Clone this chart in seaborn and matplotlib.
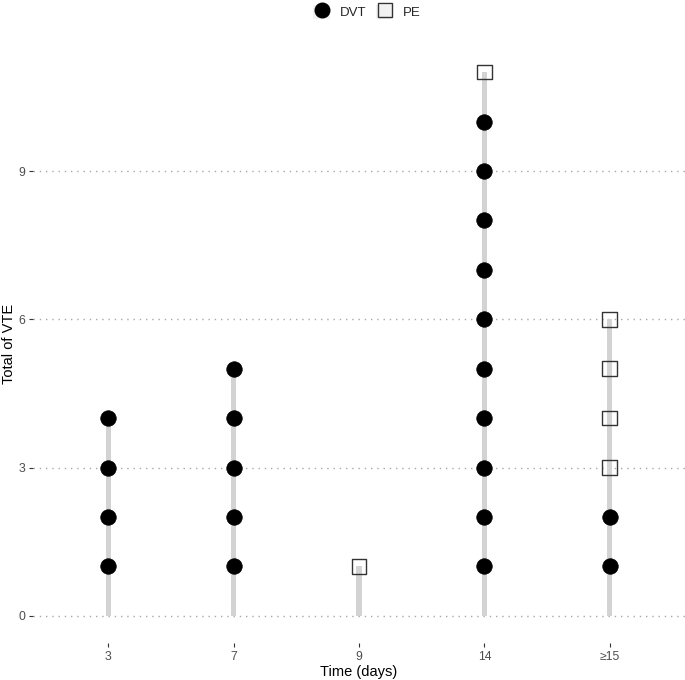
import matplotlib
matplotlib.use("Agg")
import matplotlib.pyplot as plt
import seaborn as sns
import pandas as pd
from matplotlib.lines import Line2D
from matplotlib.patches import Rectangle
from matplotlib.legend_handler import HandlerTuple

# ---- data ----
categories = ["3", "7", "9", "14", "≥15"]
totals = [4, 5, 1, 11, 6]
dvt_x = ["3"] * 4 + ["7"] * 5 + ["14"] * 10 + ["≥15"] * 2
dvt_y = [1, 2, 3, 4] + [1, 2, 3, 4, 5] + [1, 2, 3, 4, 5, 6, 7, 8, 9, 10] + [1, 2]
pe_x = ["9", "14", "≥15", "≥15", "≥15", "≥15"]
pe_y = [1, 11, 3, 4, 5, 6]
y_ticks = [0, 3, 6, 9]

sns.set_theme(style="white")
plt.rcParams["font.family"] = ["Liberation Sans", "DejaVu Sans"]

fig = plt.figure(figsize=(6.85, 6.80), dpi=100)
ax = fig.add_axes([33 / 685, 37 / 680, 652 / 685, 598 / 680])

df_tot = pd.DataFrame({"time": pd.Categorical(categories, categories=categories, ordered=True),
                       "total": totals})
df_dvt = pd.DataFrame({"time": pd.Categorical(dvt_x, categories=categories, ordered=True), "n": dvt_y})
df_pe = pd.DataFrame({"time": pd.Categorical(pe_x, categories=categories, ordered=True), "n": pe_y})

for y in y_ticks:
    ax.axhline(y, color="#a8a8a8", lw=1.0, ls=(0, (1, 3.5)), zorder=0)

sns.barplot(data=df_tot, x="time", y="total", order=categories, width=0.04,
            color="#d3d3d3", saturation=1, ax=ax, zorder=1, edgecolor="none")

sns.scatterplot(data=df_dvt, x="time", y="n", marker="o", s=125, color="black",
                edgecolor="black", linewidth=0.5, ax=ax, zorder=3, legend=False)
sns.scatterplot(data=df_pe, x="time", y="n", marker="s", s=110, facecolor="none",
                edgecolor="#333333", linewidth=1.0, ax=ax, zorder=3, legend=False)

ax.set_xlim(-0.6, 4.6)
ax.set_ylim(-0.55, 11.55)
ax.set_yticks(y_ticks)
ax.set_yticklabels([str(v) for v in y_ticks])
for s in ax.spines.values():
    s.set_visible(False)
ax.tick_params(axis="both", which="both", length=3, width=0.8, color="#333333",
               labelsize=8.8, labelcolor="#4d4d4d", pad=2.5, left=True, bottom=True)
ax.tick_params(axis="x", pad=2.5)
ax.set_xlabel("Time (days)", fontsize=10.5, color="black", labelpad=2)
ax.set_ylabel("Total of VTE", fontsize=10.5, color="black", labelpad=2)
ax.grid(False)

bg = "#f2f2f2"
h_dvt = (Rectangle((0, 0), 1, 1, facecolor=bg, edgecolor="none"),
         Line2D([], [], marker="o", ls="none", markersize=10.5, color="black"))
h_pe = (Rectangle((0, 0), 1, 1, facecolor=bg, edgecolor="none"),
        Line2D([], [], marker="s", ls="none", markersize=10, markerfacecolor="none",
               markeredgecolor="#333333", markeredgewidth=1.0))
fig.legend([h_dvt, h_pe], ["DVT", "PE"], loc="center", bbox_to_anchor=(367 / 685, 1 - 12 / 680),
           ncol=2, frameon=False, fontsize=9.5, handlelength=1.3, handleheight=1.3,
           handletextpad=0.75, columnspacing=0.7, borderpad=0,
           handler_map={tuple: HandlerTuple(ndivide=1, pad=0)})

fig.savefig("out.png", dpi=100)
